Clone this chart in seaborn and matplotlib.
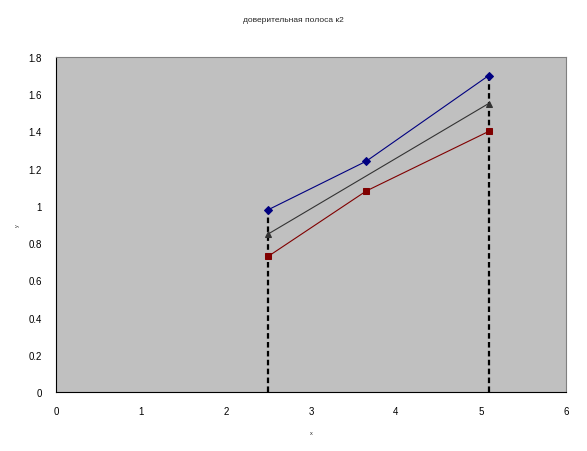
import numpy as np
import pandas as pd
import matplotlib
matplotlib.use("Agg")
import matplotlib.pyplot as plt
import seaborn as sns

# data
x_upper = [2.5, 3.65, 5.09]
y_upper = [0.98, 1.24, 1.70]
x_lower = [2.5, 3.65, 5.09]
y_lower = [0.73, 1.08, 1.40]
x_mid = [2.5, 5.09]
y_mid = [0.85, 1.55]
bound_x = [2.5, 5.09]
bound_top = [0.98, 1.70]

title = "доверительная полоса к2"
x_ticks = [0, 1, 2, 3, 4, 5, 6]
y_ticks = [0, 0.2, 0.4, 0.6, 0.8, 1, 1.2, 1.4, 1.6, 1.8]

sns.set_style("white")
plt.rcParams['font.family'] = ['Liberation Sans', 'DejaVu Sans']

fig = plt.figure(figsize=(5.87, 4.52), dpi=100)
ax = fig.add_axes([0.0954, 0.1305, 0.8688, 0.7412])
ax.set_facecolor("#C0C0C0")

# dashed verticals bounding the band
for bx, bt in zip(bound_x, bound_top):
    ax.plot([bx, bx], [0, bt], color="black", linestyle=(0, (2.5, 1.5)), linewidth=1.6, zorder=2)

upper = pd.DataFrame({"x": x_upper, "y": y_upper})
lower = pd.DataFrame({"x": x_lower, "y": y_lower})
mid = pd.DataFrame({"x": x_mid, "y": y_mid})

sns.lineplot(data=upper, x="x", y="y", ax=ax, color="#000080", linewidth=0.8,
             marker="D", markersize=4, markeredgecolor="#000080", sort=False, zorder=3)
sns.lineplot(data=mid, x="x", y="y", ax=ax, color="#333333", linewidth=0.8,
             marker="^", markersize=4.5, markeredgecolor="#333333", sort=False, zorder=3)
sns.lineplot(data=lower, x="x", y="y", ax=ax, color="#800000", linewidth=0.8,
             marker="s", markersize=4.2, markeredgecolor="#800000", sort=False, zorder=3)

ax.set_xlim(0, 6)
ax.set_ylim(0, 1.8)
ax.set_xticks(x_ticks)
ax.set_xticklabels([str(t) for t in x_ticks])
ax.set_yticks(y_ticks)
ax.set_yticklabels([f"{t:g}" for t in y_ticks])
ax.tick_params(axis="both", direction="out", length=4, width=0.8, labelsize=7, colors="black", pad=6)

for side in ["top", "right"]:
    ax.spines[side].set_color("#808080")
    ax.spines[side].set_linewidth(0.8)
for side in ["left", "bottom"]:
    ax.spines[side].set_color("black")
    ax.spines[side].set_linewidth(0.8)

ax.set_xlabel("x", fontsize=4, labelpad=10)
ax.set_ylabel("y", fontsize=4, labelpad=6)
fig.text(0.5, 0.955, title, ha="center", va="center", fontsize=6)

fig.savefig("out.png", dpi=100)
